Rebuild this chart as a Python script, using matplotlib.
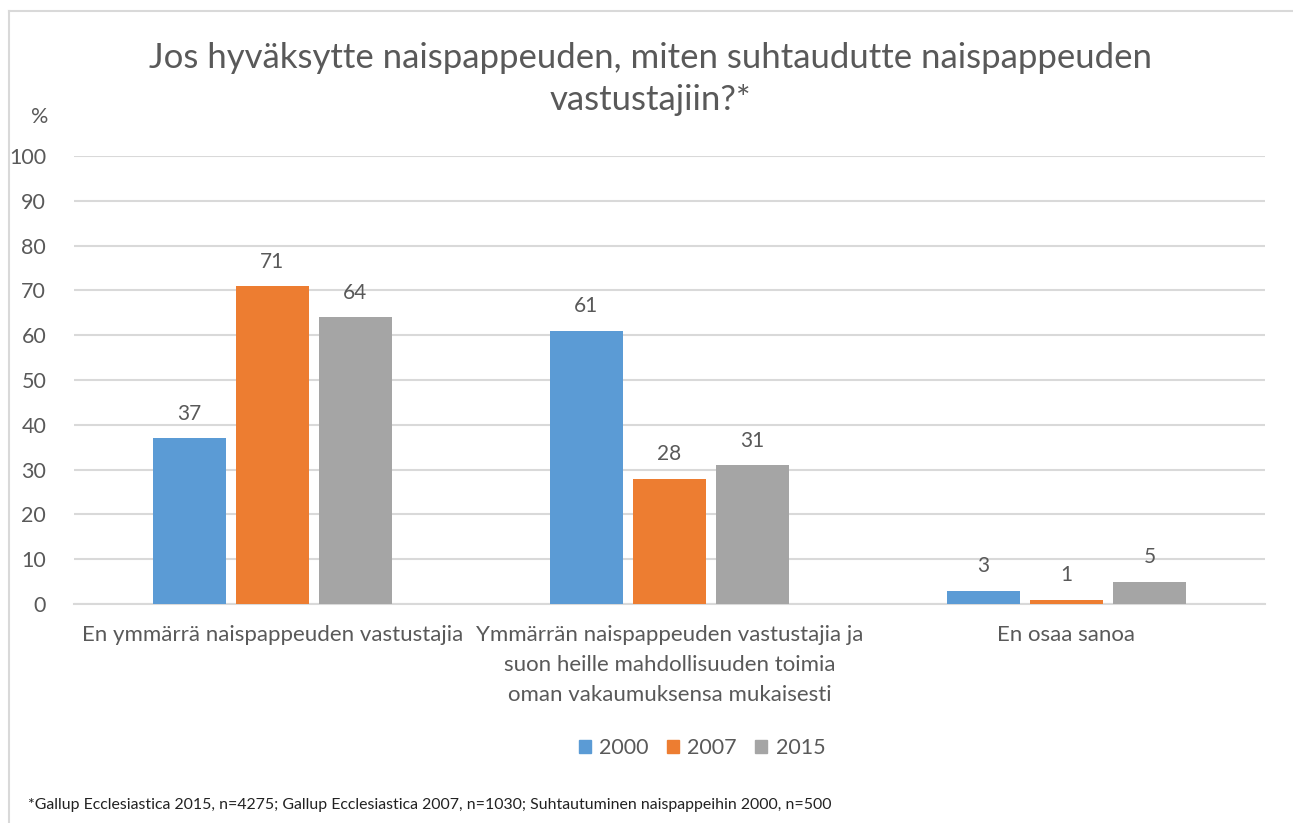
import numpy as np
import matplotlib
matplotlib.use('Agg')
import matplotlib.pyplot as plt
from matplotlib.patches import Patch
from matplotlib.lines import Line2D

plt.rcParams.update({'font.family': ['Lato', 'DejaVu Sans'], 'font.size': 14})

categories = ['En ymmärrä naispappeuden vastustajia',
              'Ymmärrän naispappeuden vastustajia ja\nsuon heille mahdollisuuden toimia\noman vakaumuksensa mukaisesti',
              'En osaa sanoa']
years = ['2000', '2007', '2015']
v2000 = [37, 61, 3]
v2007 = [71, 28, 1]
v2015 = [64, 31, 5]
colors = ['#5b9bd5', '#ed7d31', '#a5a5a5']

txt = '#595959'
grid = '#d9d9d9'

fig = plt.figure(figsize=(12.93, 8.23), dpi=100)
ax = fig.add_axes([0.0572, 0.2661, 0.9211, 0.5443])

x = np.arange(len(categories))
w = 0.184
step = 0.209
for i, (vals, c, lab) in enumerate(zip([v2000, v2007, v2015], colors, years)):
    bars = ax.bar(x + (i - 1) * step, vals, width=w, color=c, label=lab, zorder=3)
    for b, v in zip(bars, vals):
        ax.text(b.get_x() + b.get_width() / 2, v + 3.2, str(v), ha='center',
                va='bottom', fontsize=15, color=txt)

ax.set_xlim(-0.5, 2.5)
ax.set_ylim(0, 100)
ax.set_yticks(range(0, 101, 10))
ax.yaxis.grid(True, color=grid, linewidth=1.5, zorder=0)
ax.tick_params(axis='y', length=0, labelsize=15.5, labelcolor=txt, pad=20)
ax.tick_params(axis='x', length=0)
ax.set_xticks(x)
ax.set_xticklabels(categories, fontsize=16, color=txt, linespacing=1.62)
ax.tick_params(axis='x', pad=15)
for s in ['top', 'right', 'left']:
    ax.spines[s].set_visible(False)
ax.spines['bottom'].set_color(grid)
ax.spines['bottom'].set_linewidth(1.5)

fig.text(0.503, 0.904, 'Jos hyväksytte naispappeuden, miten suhtaudutte naispappeuden\nvastustajiin?*',
         ha='center', va='center', fontsize=25, color=txt, linespacing=1.38)
fig.text(0.031, 0.858, '%', ha='center', va='center', fontsize=15.5, color=txt)

handles = [Patch(color=c, label=y) for c, y in zip(colors, years)]
fig.legend(handles=handles, loc='center', bbox_to_anchor=(0.543, 0.091), ncol=3,
           frameon=False, fontsize=15.5, labelcolor=txt, handlelength=0.55,
           handleheight=0.55, handletextpad=0.4, columnspacing=0.85)

fig.text(0.022, 0.022, '*Gallup Ecclesiastica 2015, n=4275; Gallup Ecclesiastica 2007, n=1030; '
         'Suhtautuminen naispappeihin 2000, n=500', ha='left', va='center',
         fontsize=11.4, color='#222222')

# chart area border
fig.add_artist(Line2D([0.007, 0.007], [0, 0.987], color=grid, linewidth=1.5))
fig.add_artist(Line2D([0.007, 1.0], [0.987, 0.987], color=grid, linewidth=1.5))

fig.savefig('out.png', dpi=100)
